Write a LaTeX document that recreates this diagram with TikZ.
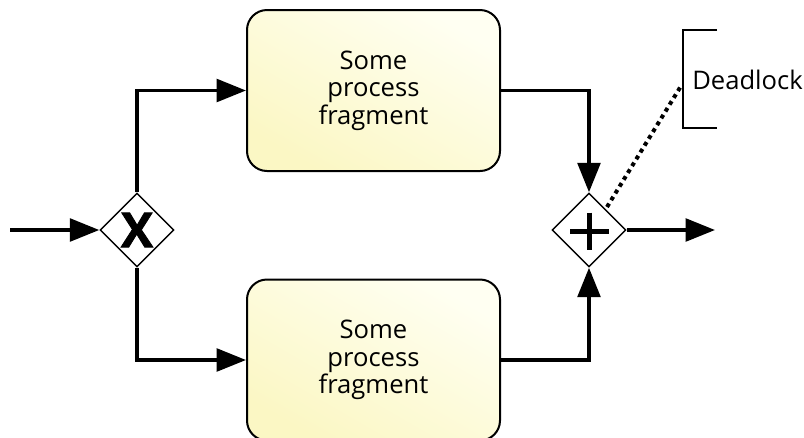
\documentclass[tikz,border=0pt]{standalone}
\usepackage{fontspec}
\setmainfont{Open Sans}
\newfontfamily\gwfont[FakeBold=1.6]{Open Sans Bold}
\usetikzlibrary{arrows.meta,shapes.geometric}
\definecolor{taskfillA}{HTML}{FFFFF2}
\definecolor{taskfillB}{HTML}{FBF7C4}
\tikzset{
  task/.style={rectangle, rounded corners=15pt, draw=black, line width=1.5pt,
    minimum width=189.75pt, minimum height=120.75pt, align=center,
    shading=axis, top color=taskfillA, bottom color=taskfillB, shading angle=-30,
    font=\fontsize{19.2}{20.6}\selectfont},
  gateway/.style={diamond, draw=black, line width=1.1pt, fill=white,
    minimum width=55.5pt, minimum height=55.5pt, inner sep=0pt},
  flow/.style={line width=2.6pt, -{Triangle[length=22pt,width=17pt]}},
  assoc/.style={line width=3pt, dash pattern=on 3pt off 3pt},
  bracket/.style={line width=1.3pt},
}
\begin{document}
\begin{tikzpicture}[x=0.75pt, y=-0.75pt]
  \useasboundingbox (0,0) rectangle (804,437);

  % start and end of the flow
  \coordinate (in) at (10,230);
  \coordinate (out) at (715,230);

  % exclusive split
  \node[gateway] (xor) at (137,230) {};
  \node[font=\fontsize{36}{36}\gwfont] (xmark) at (xor.center) {X};

  % the two activities
  \node[task] (taskA) at (373.5,90.5) {Some\\process\\fragment};
  \node[task] (taskB) at (373.5,360) {Some\\process\\fragment};

  % parallel join
  \node[gateway] (and) at (589,230) {};
  \draw[line width=4.2pt] ([xshift=-14pt,yshift=-1pt]and.center) -- ([xshift=15pt,yshift=-1pt]and.center);
  \draw[line width=4.2pt] ([xshift=0.5pt,yshift=13pt]and.center) -- ([xshift=0.5pt,yshift=-15pt]and.center);

  % sequence flows
  \draw[flow] (in) -- (xor.west);
  \draw[flow] (xor.north) |- (taskA.west);
  \draw[flow] (xor.south) |- (taskB.west);
  \draw[flow] (taskA.east) -| (and.north);
  \draw[flow] (taskB.east) -| (and.south);
  \draw[flow] (and.east) -- (out);

  % text annotation
  \coordinate (brTop) at (717,30);
  \coordinate (brBot) at (717,128);
  \draw[bracket] (brTop) -- (683,30) -- (683,128) -- (brBot);
  \coordinate (brMid) at (681,86);
  \node[anchor=west, inner sep=0pt, font=\fontsize{19.2}{20.6}\selectfont] (note) at (692,80) {Deadlock};

  % association to the join
  \coordinate (joinEdge) at (607,207);
  \draw[assoc] (joinEdge) -- (brMid);
\end{tikzpicture}
\end{document}
